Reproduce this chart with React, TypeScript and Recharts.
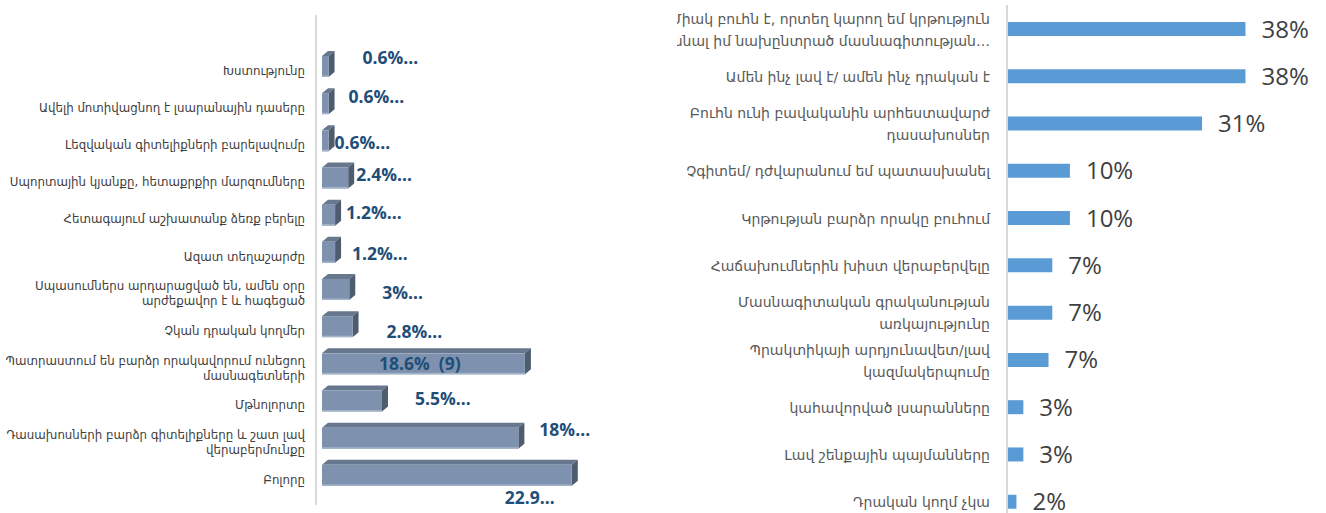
import { BarChart, Bar, XAxis, YAxis, LabelList } from 'recharts'

// left chart: positive sides (3D bars)
const leftCategories = [
  'Խստությունը',
  'Ավելի մոտիվացնող է լսարանային դասերը',
  'Լեզվական գիտելիքների բարելավումը',
  'Սպորտային կյանքը, հետաքրքիր մարզումները',
  'Հետագայում աշխատանք ձեռք բերելը',
  'Ազատ տեղաշարժը',
  'Սպասումներս արդարացված են, ամեն օրը\nարժեքավոր է և հագեցած',
  'Չկան դրական կողմեր',
  'Պատրաստում են բարձր որակավորում ունեցող\nմասնագետների',
  'Մթնոլորտը',
  'Դասախոսների բարձր գիտելիքները և շատ լավ\nվերաբերմունքը',
  'Բոլորը',
]
const leftValues = [0.6, 0.6, 0.6, 2.4, 1.2, 1.2, 2.5, 2.8, 18.6, 5.5, 18, 22.9]
const leftLabels = [
  '0.6%…', '0.6%…', '0.6%…', '2.4%…', '1.2%…', '1.2%…',
  '3%…', '2.8%…', '18.6%\u00a0 (9)', '5.5%…', '18%…', '22.9…',
]

// right chart
const rightCategories = [
  'Միակ բուհն է, որտեղ կարող եմ կրթություն\nստանալ իմ նախընտրած մասնագիտության…',
  'Ամեն ինչ լավ է/ ամեն ինչ դրական է',
  'Բուհն ունի բավականին արհեստավարժ\nդասախոսներ',
  'Չգիտեմ/ դժվարանում եմ պատասխանել',
  'Կրթության բարձր որակը բուհում',
  'Հաճախումներին խիստ վերաբերվելը',
  'Մասնագիտական գրականության\nառկայությունը',
  'Պրակտիկայի արդյունավետ/լավ\nկազմակերպումը',
  'կահավորված լսարանները',
  'Լավ շենքային պայմանները',
  'Դրական կողմ չկա',
]
const rightValues = [37.9, 37.9, 31, 10, 10, 7.2, 7.2, 6.6, 2.6, 2.6, 1.5]

const leftData = leftCategories.map((name, i) => ({ name, value: leftValues[i] }))
const rightData = rightCategories.map((name, i) => ({ name, value: rightValues[i] }))

const armFont = '"DejaVu Sans", sans-serif'

// label nudges (dx from bar end, dy from bar centre) — Excel labels were dragged by hand
const leftNudge: [number, number][] = [
  [34, -9], [20, -7], [6, 2], [8, -4], [11, -3], [17, 1],
  [33, 3], [34, 5], [-146, 0], [33, -3], [21, -9], [-67, 22],
]

function Bar3D(props: any) {
  const { x, y, width, height } = props
  const c = y + height / 2
  const w = Math.max(width, 0)
  const dx = 6
  const dy = 5
  const top = c - 11
  const bot = c + 10
  return (
    <g>
      <polygon
        points={`${x},${top} ${x + dx},${top - dy} ${x + w + dx},${top - dy} ${x + w},${top}`}
        fill="#67778e"
      />
      <polygon
        points={`${x + w},${top} ${x + w + dx},${top - dy} ${x + w + dx},${bot - dy} ${x + w},${bot}`}
        fill="#4e5c70"
      />
      <rect x={x} y={top} width={w} height={bot - top} fill="#7e92af" />
      <rect x={x} y={bot - 1.5} width={w} height={1.5} fill="#a3b3ca" />
    </g>
  )
}

function LeftValueLabel(props: any) {
  const { x, y, width, height, index } = props
  const [ndx, ndy] = leftNudge[index]
  return (
    <text
      x={x + width + ndx}
      y={y + height / 2 + ndy + 6}
      fill="#1f4e79"
      fontFamily='"Open Sans", sans-serif'
      fontWeight={700}
      fontSize={17.5}
    >
      {leftLabels[index]}
    </text>
  )
}

function MultiTick({ x, y, payload, gap, lh, size, color, shift }: any) {
  const lines = String(payload.value).split('\n')
  const y0 = y + shift - ((lines.length - 1) * lh) / 2 + size * 0.36
  return (
    <text x={x - gap} y={y0} textAnchor="end" fontFamily={armFont} fontSize={size} fill={color}>
      {lines.map((l, i) => (
        <tspan key={i} x={x - gap} dy={i === 0 ? 0 : lh}>
          {l}
        </tspan>
      ))}
    </text>
  )
}

export default function App() {
  return (
    <div
      style={{
        position: 'fixed',
        left: 0,
        top: 0,
        width: 1326,
        height: 513,
        overflow: 'hidden',
        background: '#fff',
      }}
    >
      <div style={{ position: 'absolute', left: 0, top: 0 }}>
        <BarChart
          width={640}
          height={513}
          data={leftData}
          layout="vertical"
          margin={{ top: 15, right: 0, bottom: 8, left: 0 }}
          barCategoryGap={0}
        >
          <XAxis type="number" domain={[-0.55, 29.15]} allowDataOverflow hide />
          <YAxis
            type="category"
            dataKey="name"
            width={316}
            padding={{ top: 33, bottom: 11 }}
            axisLine={{ stroke: '#d9d9d9', strokeWidth: 2 }}
            tickLine={false}
            tickSize={0}
            tickMargin={0}
            interval={0}
            tick={<MultiTick gap={11} lh={15} size={11.8} color="#404040" shift={4} />}
          />
          <Bar dataKey="value" barSize={26} shape={<Bar3D />} isAnimationActive={false}>
            <LabelList dataKey="value" content={<LeftValueLabel />} />
          </Bar>
        </BarChart>
      </div>
      <div style={{ position: 'absolute', left: 677, top: 0 }}>
        <BarChart
          width={649}
          height={530}
          data={rightData}
          layout="vertical"
          margin={{ top: 5, right: 0, bottom: 5, left: 0 }}
        >
          <XAxis type="number" domain={[0, 50.7]} allowDataOverflow hide />
          <YAxis
            type="category"
            dataKey="name"
            width={330}
            axisLine={{ stroke: '#d9d9d9', strokeWidth: 2 }}
            tickLine={false}
            tickSize={0}
            tickMargin={0}
            interval={0}
            tick={<MultiTick gap={17} lh={22} size={14} color="#595959" shift={1} />}
          />
          <Bar dataKey="value" barSize={14} fill="#5b9bd5" isAnimationActive={false}>
            <LabelList
              dataKey="value"
              position="right"
              offset={16}
              formatter={(v: any) => `${Math.round(Number(v))}%`}
              fill="#404040"
              fontSize={24}
              fontFamily='"Open Sans", sans-serif'
            />
          </Bar>
        </BarChart>
      </div>
    </div>
  )
}
